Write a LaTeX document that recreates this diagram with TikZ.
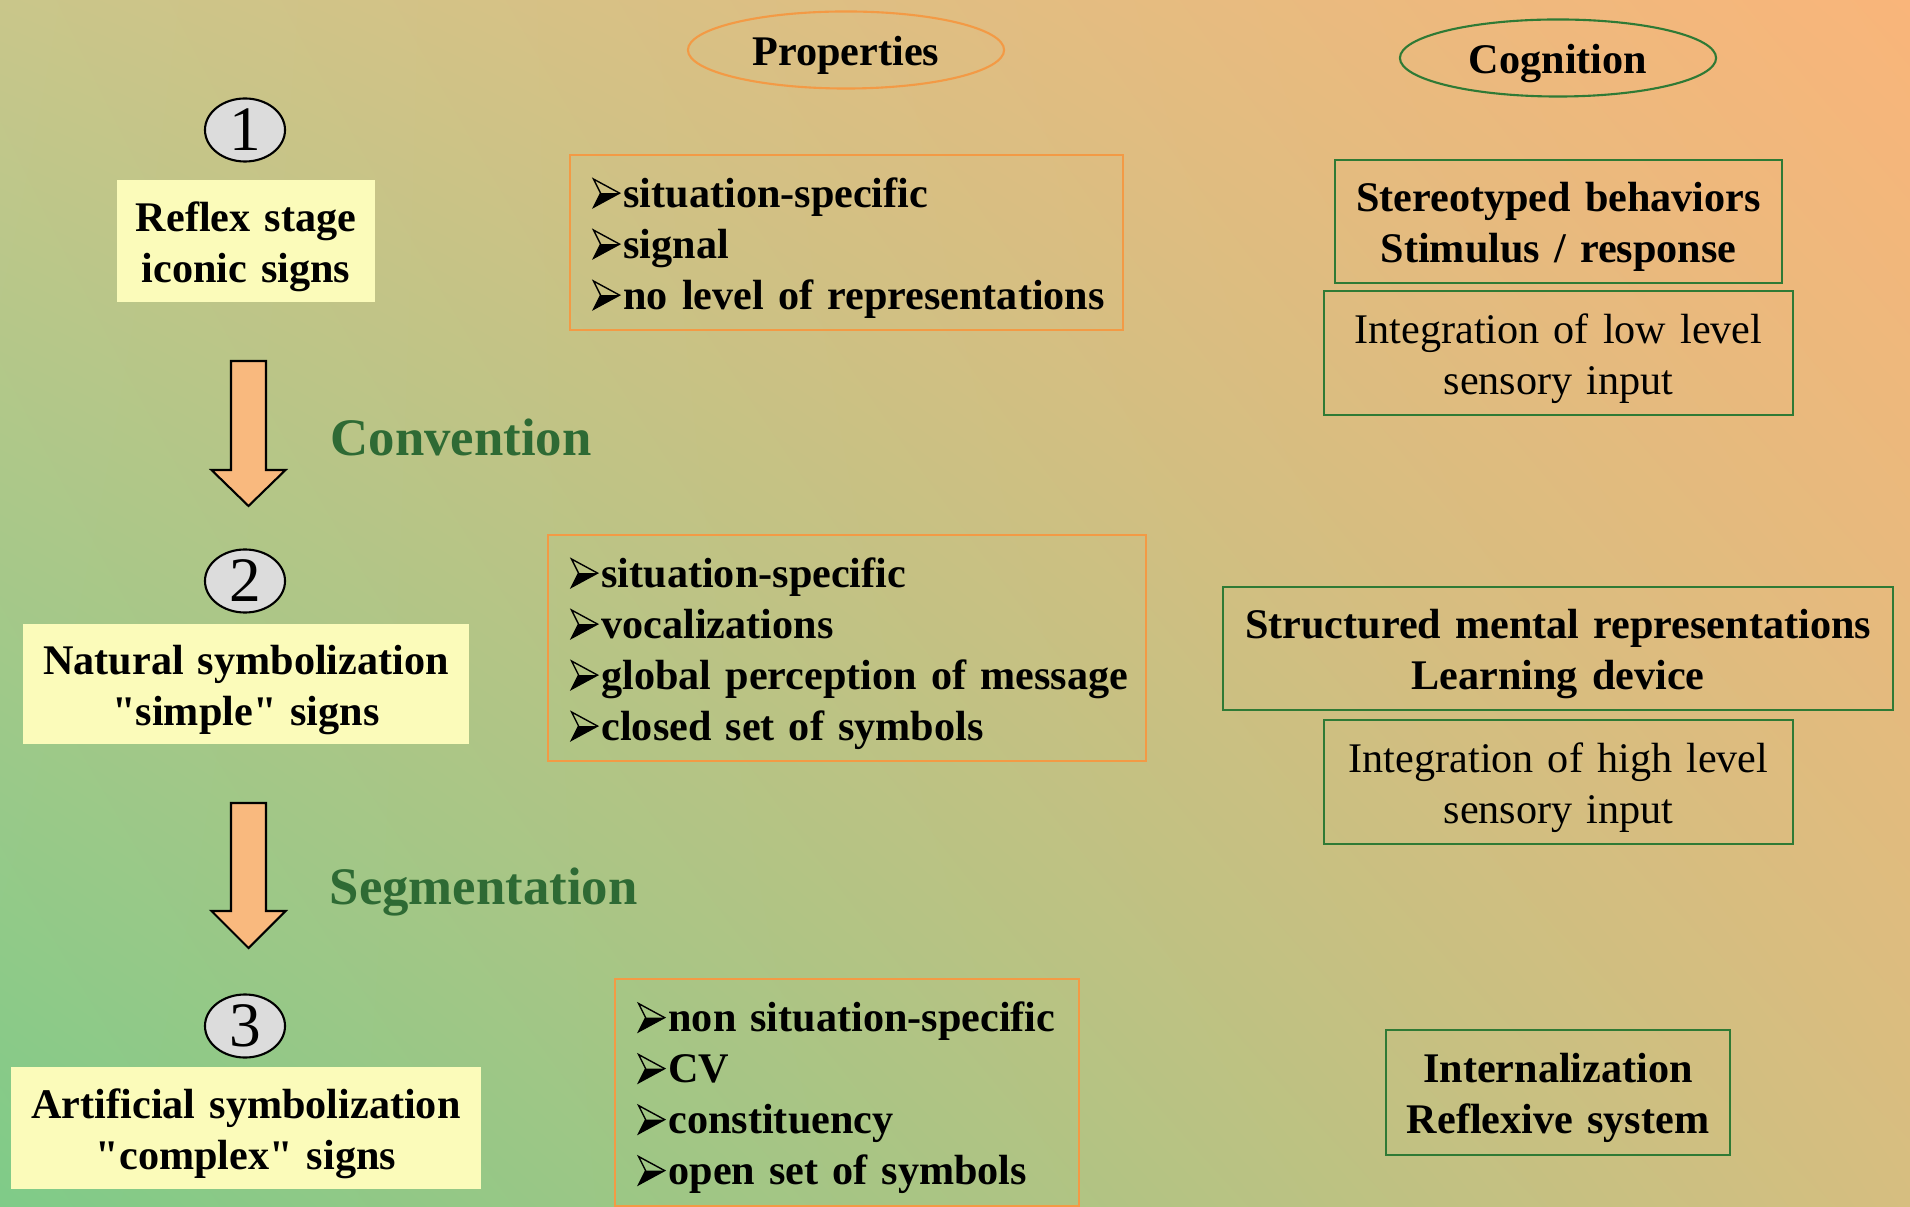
\documentclass[tikz,border=0pt]{standalone}
\usepackage{fontspec}
\setmainfont{Liberation Serif}
\usetikzlibrary{shapes.geometric,shadings}
\definecolor{bgGreen}{HTML}{7FCB88}
\definecolor{bgOrange}{HTML}{F9B57A}
\definecolor{bgTL}{HTML}{C9C68A}
\definecolor{bgBR}{HTML}{D6BE80}
\definecolor{stageFill}{HTML}{FBFBBA}
\definecolor{propOrange}{HTML}{F39A45}
\definecolor{cogGreen}{HTML}{2F7A35}
\definecolor{labelGreen}{HTML}{2E6A34}
\definecolor{arrowFill}{HTML}{F9B97E}
\definecolor{numFill}{HTML}{DCDCDC}
% bullet: 3-D arrowhead
\newcommand{\itemarrow}{\tikz[baseline=0pt, x=1pt, y=1pt, line width=0.4pt, line join=miter]{
  \draw (0,8) -- (7.4,4) -- (0,0) -- (2,4) -- cycle;
  \fill (0,0) -- (7.4,4) -- (2,4) -- cycle;}\hspace{0.9pt}}
\newcommand{\tallstrut}{\rule{0pt}{11.5pt}}
\tikzset{
  stagebox/.style={fill=stageFill, inner sep=0pt, align=center,
    font=\bfseries\fontsize{12}{14.5}\selectfont, execute at begin node=\rule{0pt}{12pt}},
  numcircle/.style={ellipse, draw=black, line width=0.6pt, fill=numFill,
    minimum width=0.80cm, minimum height=0.63cm, inner sep=0pt,
    font=\fontsize{18}{18}\selectfont},
  headellipse/.style={ellipse, line width=0.6pt, minimum width=3.16cm,
    minimum height=0.77cm, inner sep=0pt,
    font=\bfseries\fontsize{12}{14.5}\selectfont, execute at begin node=\tallstrut},
  propbox/.style={draw=propOrange, line width=0.7pt, align=left,
    inner xsep=0.23cm, inner ysep=0pt,
    font=\bfseries\fontsize{12}{14.5}\selectfont, execute at begin node=\tallstrut},
  cogbox/.style={draw=cogGreen, line width=0.7pt, align=center, inner sep=0pt,
    font=\fontsize{12}{14.5}\selectfont, execute at begin node=\tallstrut},
  steplabel/.style={text=labelGreen, anchor=base west, inner sep=0pt,
    font=\bfseries\fontsize{15}{18}\selectfont},
  blockarrow/.style={fill=arrowFill, draw=black, line width=0.6pt, line join=miter}
}
\begin{document}
\begin{tikzpicture}[x=0.01cm, y=-0.01cm]
\useasboundingbox (0,0) rectangle (1910,1207);
\shade[upper left=bgTL, upper right=bgOrange, lower left=bgGreen, lower right=bgBR]
  (0,0) rectangle (1910,1207);

% stages
\node[numcircle] (num1) at (245,130) {1};
\node[stagebox, text width=2.58cm, minimum height=1.22cm] (stage1) at (246,241) {Reflex stage\\iconic signs};
\node[numcircle] (num2) at (245,581) {2};
\node[stagebox, text width=4.46cm, minimum height=1.20cm] (stage2) at (246,684) {Natural symbolization\\\textquotedbl simple\textquotedbl{} signs};
\node[numcircle] (num3) at (245,1026) {3};
\node[stagebox, text width=4.69cm, minimum height=1.21cm] (stage3) at (246,1128) {Artificial symbolization\\\textquotedbl complex\textquotedbl{} signs};

\draw[blockarrow] (231,361) -- (266,361) -- (266,470) -- (285.5,470) -- (248.5,506) -- (211.5,470) -- (231,470) -- cycle;
\draw[blockarrow] (231,803) -- (266,803) -- (266,911) -- (285.5,911) -- (248.5,948) -- (211.5,911) -- (231,911) -- cycle;
\node[steplabel] (conv) at (330,456) {Convention};
\node[steplabel] (seg) at (329,904) {Segmentation};

% properties
\node[headellipse, draw=propOrange] (props) at (846,50) {Properties};
\node[propbox, text width=5.07cm, minimum height=1.75cm] (prop1) at (846.5,242.5)
  {\mbox{\itemarrow situation-specific}\\\mbox{\itemarrow signal}\\\mbox{\itemarrow no level of representations}};
\node[propbox, text width=5.52cm, minimum height=2.26cm] (prop2) at (847,648)
  {\mbox{\itemarrow situation-specific}\\\mbox{\itemarrow vocalizations}\\\mbox{\itemarrow global perception of message}\\\mbox{\itemarrow closed set of symbols}};
\node[propbox, text width=4.18cm, minimum height=2.27cm] (prop3) at (847,1092.5)
  {\mbox{\itemarrow non situation-specific}\\\mbox{\itemarrow CV}\\\mbox{\itemarrow constituency}\\\mbox{\itemarrow open set of symbols}};

% cognition
\node[headellipse, draw=cogGreen] (cog) at (1558,58) {Cognition};
\node[cogbox, text width=4.47cm, minimum height=1.23cm, font=\bfseries\fontsize{12}{14.5}\selectfont] (cog1) at (1558.5,221.5) {Stereotyped behaviors\\Stimulus / response};
\node[cogbox, text width=4.69cm, minimum height=1.24cm] (cog2) at (1558.5,353) {Integration of low level\\sensory input};
\node[cogbox, text width=6.70cm, minimum height=1.23cm, font=\bfseries\fontsize{12}{14.5}\selectfont] (cog3) at (1558,648.5) {Structured mental representations\\Learning device};
\node[cogbox, text width=4.69cm, minimum height=1.24cm] (cog4) at (1558.5,782) {Integration of high level\\sensory input};
\node[cogbox, text width=3.44cm, minimum height=1.25cm, font=\bfseries\fontsize{12}{14.5}\selectfont] (cog5) at (1558,1092.5) {Internalization\\Reflexive system};
\end{tikzpicture}
\end{document}
